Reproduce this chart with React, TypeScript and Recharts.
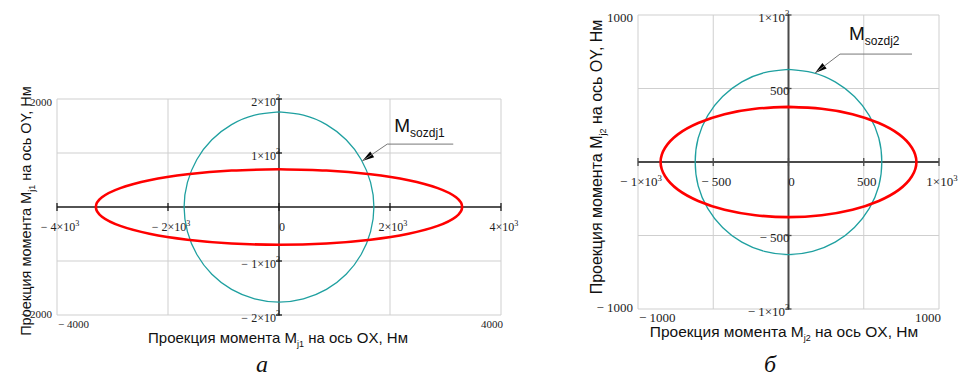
import React from 'react';
import { LineChart, Line, XAxis, YAxis, ReferenceLine, ReferenceDot } from 'recharts';

// ---------- Panel "а" data ----------
const ellipse1X = [0, 855, 1650, 2335, 2860, 3190, 3300, 3190, 2860, 2335, 1650, 855, 0, -855, -1650, -2335, -2860, -3190, -3300, -3190, -2860, -2335, -1650, -855, 0];
const ellipse1Y = [700, 675, 605, 495, 350, 180, 0, -180, -350, -495, -605, -675, -700, -675, -605, -495, -350, -180, 0, 180, 350, 495, 605, 675, 700];
const circle1X = [0, 440, 855, 1210, 1480, 1650, 1710, 1650, 1480, 1210, 855, 440, 0, -440, -855, -1210, -1480, -1650, -1710, -1650, -1480, -1210, -855, -440, 0];
const circle1Y = [1760, 1700, 1525, 1245, 880, 455, 0, -455, -880, -1245, -1525, -1700, -1760, -1700, -1525, -1245, -880, -455, 0, 455, 880, 1245, 1525, 1700, 1760];
const xCross1 = [-4000, -2000, 0, 2000, 4000];
const yCross1 = [-2000, -1000, 1000, 2000];
const xGrid1 = [-4000, -2000, 2000, 4000];
const yGrid1 = [-2000, -1000, 1000, 2000];
const xEdge1 = [-4000, 4000];
const yEdge1 = [-2000, 2000];

// ---------- Panel "б" data ----------
const ellipse2X = [0, 220, 425, 600, 735, 820, 850, 820, 735, 600, 425, 220, 0, -220, -425, -600, -735, -820, -850, -820, -735, -600, -425, -220, 0];
const ellipse2Y = [375, 362, 325, 265, 188, 97, 0, -97, -188, -265, -325, -362, -375, -362, -325, -265, -188, -97, 0, 97, 188, 265, 325, 362, 375];
const circle2X = [0, 160, 310, 438, 537, 600, 620, 600, 537, 438, 310, 160, 0, -160, -310, -438, -537, -600, -620, -600, -537, -438, -310, -160, 0];
const circle2Y = [630, 608, 545, 445, 315, 163, 0, -163, -315, -445, -545, -608, -630, -608, -545, -445, -315, -163, 0, 163, 315, 445, 545, 608, 630];
const xCross2 = [-1000, -500, 0, 500, 1000];
const yCross2 = [-1000, -500, 500, 1000];
const xGrid2 = [-1000, -500, 500, 1000];
const yGrid2 = [-1000, -500, 500, 1000];
const xEdge2 = [-1000, 1000];
const yEdge2 = [-1000, 1000];

const toPts = (xs: number[], ys: number[]) => xs.map((x, i) => ({ x, y: ys[i] }));

const SERIF = '"Liberation Serif", "DejaVu Serif", serif';
const SANS = '"Liberation Sans", Arial, sans-serif';
const TXT = '#222';

function sciParts(v: number) {
  const a = Math.abs(v);
  if (a >= 1000) {
    const e = Math.floor(Math.log10(a));
    return { body: `${a / Math.pow(10, e)}×10`, exp: String(e) };
  }
  return { body: String(a), exp: '' };
}

function SciText({ x, y, v, size, anchor }: any) {
  const p = sciParts(v);
  return (
    <text x={x} y={y} textAnchor={anchor} fontFamily={SERIF} fontSize={size} fill={TXT}>
      {v < 0 ? '− ' : ''}
      {p.body}
      {p.exp ? (
        <tspan dy={-size * 0.42} fontSize={size * 0.68}>
          {p.exp}
        </tspan>
      ) : null}
    </text>
  );
}

const plain = (v: number) => (v < 0 ? '− ' + Math.abs(v) : String(v));

type PanelCfg = {
  left: number;
  width: number;
  margin: { top: number; right: number; bottom: number; left: number };
  xDomain: [number, number];
  yDomain: [number, number];
  xGrid: number[];
  yGrid: number[];
  xCross: number[];
  yCross: number[];
  xEdge: number[];
  yEdge: number[];
  ellipse: { x: number; y: number }[];
  circle: { x: number; y: number }[];
  font: number;
  edgeFont: number;
  axisColor: string;
  axisWidth: number;
  bottomDy: number;
  ann: { x: number; y: number; sub: string; len: number; ex: number; ey: number; mx: number; my: number };
};

function Panel(c: PanelCfg) {
  const EdgeX = (p: any) => {
    const first = p.index === 0;
    return (
      <text
        x={first ? p.x + 1 : p.x + 2}
        y={p.y + c.bottomDy}
        textAnchor={first ? 'start' : 'end'}
        fontFamily={SERIF}
        fontSize={c.edgeFont}
        fill={TXT}
      >
        {plain(p.payload.value)}
      </text>
    );
  };
  const EdgeY = (p: any) => {
    const v = p.payload.value;
    return (
      <text x={p.x - 5} y={v > 0 ? p.y + 7 : p.y + 3} textAnchor="end" fontFamily={SERIF} fontSize={c.edgeFont} fill={TXT}>
        {plain(v)}
      </text>
    );
  };
  const a = c.ann;
  const annShape = (p: any) => {
    const cx = p.cx;
    const cy = p.cy;
    const dx = a.ex;
    const dy = a.ey;
    const L = Math.sqrt(dx * dx + dy * dy);
    const ux = dx / L;
    const uy = dy / L;
    const bx = cx + ux * 12;
    const by = cy + uy * 12;
    const px = -uy * 3.5;
    const py = ux * 3.5;
    return (
      <g>
        <polygon points={`${cx},${cy} ${bx + px},${by + py} ${bx - px},${by - py}`} fill="#000" />
        <polyline points={`${cx},${cy} ${cx + dx},${cy + dy} ${cx + a.len},${cy + dy}`} fill="none" stroke="#777" strokeWidth={1} />
        <text x={cx + a.mx} y={cy + a.my} fontFamily={SANS} fontSize={19} fill="#111">
          M
          <tspan dy={5} fontSize={12}>
            {a.sub}
          </tspan>
        </text>
      </g>
    );
  };
  return (
    <div style={{ position: 'absolute', left: c.left, top: 0 }}>
      <LineChart width={c.width} height={379} margin={c.margin}>
        <XAxis
          type="number"
          dataKey="x"
          domain={c.xDomain}
          allowDataOverflow
          ticks={c.xEdge}
          tick={EdgeX}
          axisLine={false}
          tickLine={false}
          tickSize={0}
          tickMargin={0}
          height={20}
          interval={0}
        />
        <YAxis
          type="number"
          dataKey="y"
          domain={c.yDomain}
          allowDataOverflow
          ticks={c.yEdge}
          tick={EdgeY}
          axisLine={false}
          tickLine={false}
          tickSize={0}
          tickMargin={0}
          width={50}
          interval={0}
        />
        {c.xGrid.map((v) => (
          <ReferenceLine key={'gx' + v} x={v} stroke="#cfcfcf" strokeWidth={1} ifOverflow="visible" />
        ))}
        {c.yGrid.map((v) => (
          <ReferenceLine key={'gy' + v} y={v} stroke="#cfcfcf" strokeWidth={1} ifOverflow="visible" />
        ))}
        <ReferenceLine x={0} stroke={c.axisColor} strokeWidth={c.axisWidth} ifOverflow="visible" />
        <ReferenceLine y={0} stroke={c.axisColor} strokeWidth={c.axisWidth} ifOverflow="visible" />
        {c.xCross.map((v) => (
          <ReferenceDot
            key={'tx' + v}
            x={v}
            y={0}
            ifOverflow="visible"
            shape={(p: any) => (
              <g>
                <line x1={p.cx} y1={p.cy - 4} x2={p.cx} y2={p.cy + 4} stroke={c.axisColor} strokeWidth={1.3} />
                <SciText x={p.cx + 3} y={p.cy + 24} v={v} size={c.font} anchor="middle" />
              </g>
            )}
          />
        ))}
        {c.yCross.map((v) => (
          <ReferenceDot
            key={'ty' + v}
            x={0}
            y={v}
            ifOverflow="visible"
            shape={(p: any) => (
              <g>
                <line x1={p.cx - 3} y1={p.cy} x2={p.cx + 3} y2={p.cy} stroke={c.axisColor} strokeWidth={1.3} />
                <SciText x={p.cx + 1} y={p.cy + 6.5} v={v} size={c.font} anchor="end" />
              </g>
            )}
          />
        ))}
        <Line
          data={c.circle}
          dataKey="y"
          type="natural"
          stroke="#1fa0a0"
          strokeWidth={1.3}
          dot={false}
          activeDot={false}
          isAnimationActive={false}
        />
        <Line
          data={c.ellipse}
          dataKey="y"
          type="natural"
          stroke="#ff0000"
          strokeWidth={2.6}
          dot={false}
          activeDot={false}
          isAnimationActive={false}
        />
        <ReferenceDot x={a.x} y={a.y} ifOverflow="visible" shape={annShape} />
      </LineChart>
    </div>
  );
}

export default function App() {
  return (
    <div style={{ position: 'absolute', left: 0, top: 0, width: 958, height: 379, background: '#fff', overflow: 'hidden' }}>
      <Panel
        left={0}
        width={530}
        margin={{ top: 99, right: 29, bottom: 44, left: 7 }}
        xDomain={[-4000, 4000]}
        yDomain={[-2000, 2000]}
        xGrid={xGrid1}
        yGrid={yGrid1}
        xCross={xCross1}
        yCross={yCross1}
        xEdge={xEdge1}
        yEdge={yEdge1}
        ellipse={toPts(ellipse1X, ellipse1Y)}
        circle={toPts(circle1X, circle1Y)}
        font={12}
        edgeFont={11}
        axisColor="#1a1a1a"
        axisWidth={1.4}
        bottomDy={13}
        ann={{ x: 1500, y: 850, sub: 'sozdj1', len: 91, ex: 25, ey: -17, mx: 32, my: -29 }}
      />
      <Panel
        left={540}
        width={418}
        margin={{ top: 15, right: 19, bottom: 50, left: 48 }}
        xDomain={[-1000, 1000]}
        yDomain={[-1000, 1000]}
        xGrid={xGrid2}
        yGrid={yGrid2}
        xCross={xCross2}
        yCross={yCross2}
        xEdge={xEdge2}
        yEdge={yEdge2}
        ellipse={toPts(ellipse2X, ellipse2Y)}
        circle={toPts(circle2X, circle2Y)}
        font={13}
        edgeFont={13}
        axisColor="#4a4a4a"
        axisWidth={2}
        bottomDy={13}
        ann={{ x: 176, y: 605, sub: 'sozdj2', len: 97, ex: 25, ey: -19, mx: 34, my: -33 }}
      />
      <svg width={958} height={379} style={{ position: 'absolute', left: 0, top: 0, pointerEvents: 'none' }}>
        <text x={278} y={343} textAnchor="middle" fontFamily={SANS} fontSize={15} fill="#111">
          Проекция момента M
          <tspan dy={4} fontSize={9}>j1</tspan>
          <tspan dy={-4}> на ось OX, Нм</tspan>
        </text>
        <text transform="translate(31,211) rotate(-90)" textAnchor="middle" fontFamily={SANS} fontSize={14.5} fill="#111">
          Проекция момента M
          <tspan dy={4} fontSize={9}>j1</tspan>
          <tspan dy={-4}> на ось OY, Нм</tspan>
        </text>
        <text x={784} y={337} textAnchor="middle" fontFamily={SANS} fontSize={15.5} fill="#111">
          Проекция момента M
          <tspan dy={4} fontSize={9}>j2</tspan>
          <tspan dy={-4}> на ось OX, Нм</tspan>
        </text>
        <text transform="translate(602,157) rotate(-90)" textAnchor="middle" fontFamily={SANS} fontSize={16} fill="#111">
          Проекция момента M
          <tspan dy={4} fontSize={9}>j2</tspan>
          <tspan dy={-4}> на ось OY, Нм</tspan>
        </text>
        <text x={262} y={372} textAnchor="middle" fontFamily={SERIF} fontStyle="italic" fontSize={24} fill="#111">
          а
        </text>
        <text x={770} y={372} textAnchor="middle" fontFamily={SERIF} fontStyle="italic" fontSize={24} fill="#111">
          б
        </text>
      </svg>
    </div>
  );
}
